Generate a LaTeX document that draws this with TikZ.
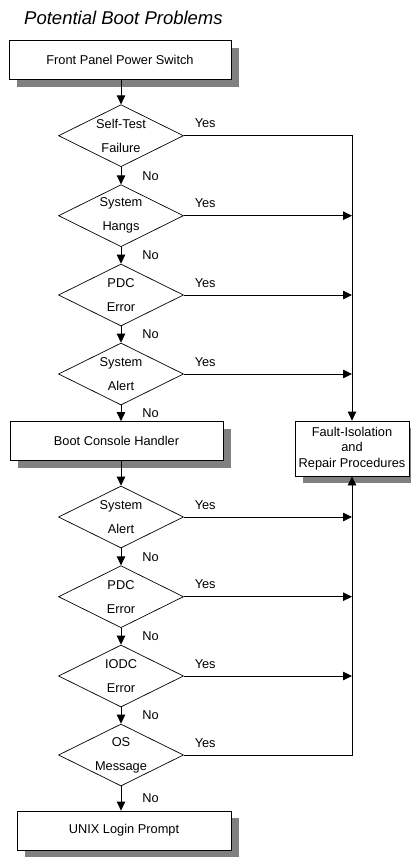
\documentclass[tikz,border=0pt]{standalone}
\usepackage{fontspec}
\setmainfont{Liberation Sans}
\usetikzlibrary{shapes.geometric,arrows.meta,shadows}

\tikzset{
    caja/.style={draw, line width=0.8pt, fill=white, minimum height=39pt, inner sep=0pt,
        align=center, font=\fontsize{12.8}{15.5}\selectfont,
        drop shadow={shadow xshift=8pt, shadow yshift=-7pt, fill=black!50, opacity=1}},
    rombo/.style={diamond, draw, line width=0.7pt, aspect=2, minimum width=125pt,
        minimum height=62pt, inner sep=0pt, align=center, font=\fontsize{12.8}{24}\selectfont},
    flecha/.style={line width=0.8pt, -{Triangle[length=9pt,width=8.5pt]}},
    yeslbl/.style={anchor=south west, inner sep=0pt, xshift=10.5pt, yshift=7.4pt,
        font=\fontsize{12.8}{15}\selectfont},
    nolbl/.style={anchor=west, inner sep=0pt, xshift=21pt, font=\fontsize{12.8}{15}\selectfont},
}

\begin{document}
\begin{tikzpicture}[x=1pt, y=-1pt]
        \useasboundingbox (0,0) rectangle (411,857);
        \node[anchor=base west, inner sep=0pt, font=\fontsize{18.5}{22}\selectfont\itshape] (titulo)
            at (24,24) {Potential Boot Problems};

        % Cajas
        \node[caja, minimum width=222pt] (power) at (120,60.3) {Front Panel Power Switch};
        \node[caja, minimum width=213pt] (bch) at (116.5,441) {Boot Console Handler};
        \node[caja, minimum width=214pt] (unix) at (124,830.5) {UNIX Login Prompt};
        \node[caja, minimum width=114pt, minimum height=55pt] (fault) at (352,448.5)
            {Fault-Isolation\\and\\Repair Procedures};

        % Rombos
        \foreach \nombre/\y/\texto in {
            st/135.7/Self-Test\\Failure,
            hang/215.7/System\\Hangs,
            pdc1/295/PDC\\Error,
            alert1/374/System\\Alert,
            alert2/517/System\\Alert,
            pdc2/596.7/PDC\\Error,
            iodc/676/IODC\\Error,
            osmsg/755/OS\\Message
            } {
            \node[rombo] (\nombre) at (121,\y) {\texto};
        }

        % Flujo principal
        \draw[flecha] (power.south -| st.north) -- (st.north);
        \foreach \a/\b in {st/hang, hang/pdc1, pdc1/alert1, alert2/pdc2, pdc2/iodc, iodc/osmsg} {
            \draw[flecha] (\a.south) -- node[nolbl] {No} (\b.north);
        }
        \draw[flecha] (alert1.south) -- node[nolbl] {No} (alert1.south |- bch.north);
        \draw[flecha] (bch.south -| alert2.north) -- (alert2.north);
        \draw[flecha] (osmsg.south) -- node[nolbl] {No} (osmsg.south |- unix.north);

        % Ramas Yes
        \draw[flecha] (st.east) -- node[yeslbl, pos=0] {Yes} (st.east -| fault.north) -- (fault.north);
        \foreach \r in {hang, pdc1, alert1, alert2, pdc2, iodc} {
            \draw[flecha] (\r.east) -- node[yeslbl, pos=0] {Yes} (\r.east -| fault.north);
        }
        \draw[flecha] (osmsg.east) -- node[yeslbl, pos=0] {Yes} (osmsg.east -| fault.south) -- (fault.south);
    \end{tikzpicture}
\end{document}
